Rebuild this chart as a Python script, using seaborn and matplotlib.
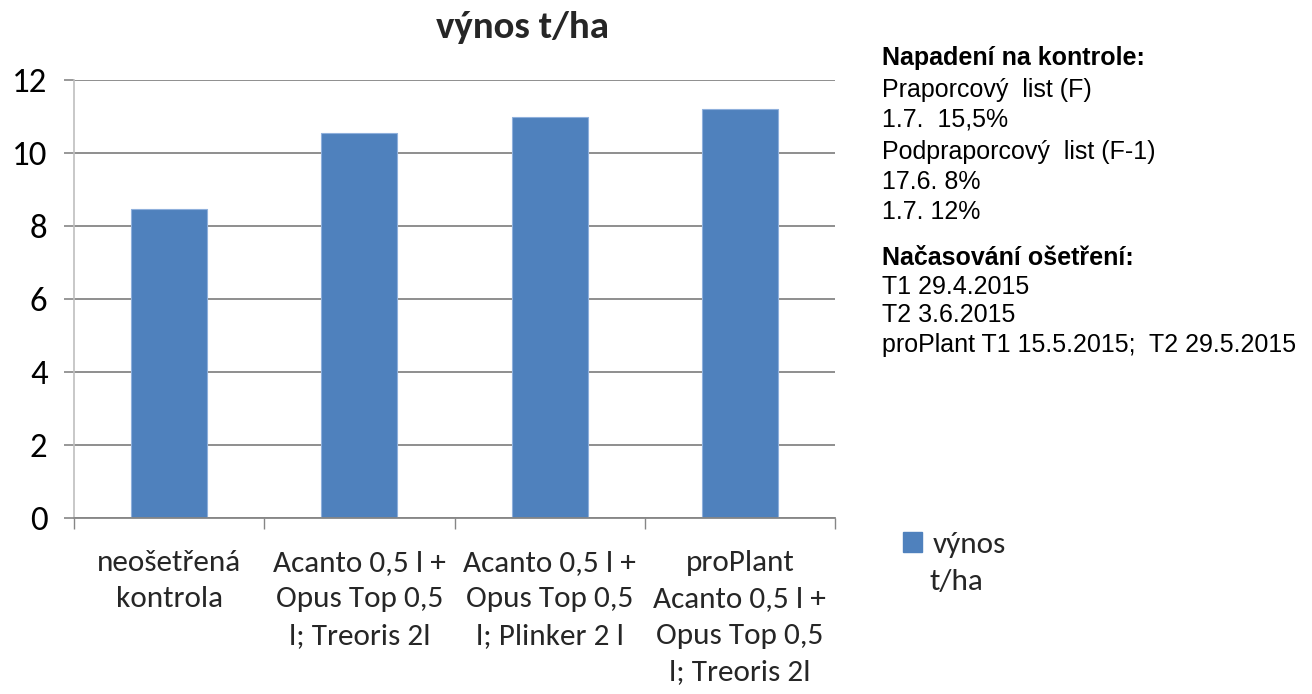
import matplotlib
matplotlib.use("Agg")
import matplotlib.pyplot as plt
import seaborn as sns
import pandas as pd
from matplotlib.ticker import FixedLocator
from matplotlib.patches import Patch

categories = [
    "neošetřená\nkontrola",
    "Acanto 0,5 l +\nOpus Top 0,5\nl; Treoris 2l",
    "Acanto 0,5 l +\nOpus Top 0,5\nl; Plinker 2 l",
    "proPlant\nAcanto 0,5 l +\nOpus Top 0,5\nl; Treoris 2l",
]
values = [8.46, 10.54, 10.99, 11.21]
series_name = "výnos t/ha"
yticks = [0, 2, 4, 6, 8, 10, 12]

note_lines = [
    ("Napadení na kontrole:", True),
    ("Praporcový  list (F)", False),
    ("1.7.  15,5%", False),
    ("Podpraporcový  list (F-1)", False),
    ("17.6. 8%", False),
    ("1.7. 12%", False),
    ("Načasování ošetření:", True),
    ("T1 29.4.2015", False),
    ("T2 3.6.2015", False),
    ("proPlant T1 15.5.2015;  T2 29.5.2015", False),
]

sns.set_theme(style="white")
calibri = ["Carlito", "Lato", "DejaVu Sans"]
arial = ["Liberation Sans", "DejaVu Sans"]
plt.rcParams["font.family"] = calibri

df = pd.DataFrame({"kategorie": categories, "hodnota": values, "serie": series_name})

fig = plt.figure(figsize=(13.12, 6.94), dpi=100)
ax = fig.add_axes([74/1312, 1-518/694, (835-74)/1312, (518-80)/694])

sns.barplot(data=df, x="kategorie", y="hodnota", hue="serie", palette=["#4F81BD"],
            saturation=1, width=0.4, ax=ax, edgecolor="#8fb0dc", linewidth=0.8, legend=False)

ax.set_ylim(0, 12)
ax.set_xlim(-0.5, 3.5)
ax.set_yticks(yticks)
ax.set_yticklabels([str(v) for v in yticks], fontsize=25, color="#000000")
ax.yaxis.grid(True, color="#868686", linewidth=1.3)
ax.set_axisbelow(True)
ax.set_xlabel("")
ax.set_ylabel("")
for s in ["top", "right"]:
    ax.spines[s].set_visible(False)
ax.spines["left"].set_color("#bfbfbf")
ax.spines["left"].set_linewidth(1.2)
ax.spines["bottom"].set_color("#868686")
ax.spines["bottom"].set_linewidth(1.3)

ax.tick_params(axis="y", which="major", length=7, width=1.2, color="#868686", direction="out", pad=12, left=True)
ax.set_xticks(range(len(categories)))
ax.set_xticklabels(categories, fontsize=22.5, linespacing=1.5, va="top")
ax.tick_params(axis="x", which="major", length=0, pad=23)
ax.xaxis.set_minor_locator(FixedLocator([-0.5, 0.5, 1.5, 2.5, 3.5]))
ax.tick_params(axis="x", which="minor", length=8, width=1.0, color="#868686", bottom=True, direction="out")

fig.text(523/1312, 1-28/694, "výnos t/ha", ha="center", va="center", fontsize=28,
         fontweight="bold", family=calibri)

# legend
handles = [Patch(facecolor="#4F81BD", edgecolor="#4F81BD")]
leg = fig.legend(handles, ["výnos"], loc="center left", bbox_to_anchor=(903/1312, 1-545/694),
                 frameon=False, handlelength=0.6, handleheight=0.6,
                 handletextpad=0.35, borderpad=0, borderaxespad=0,
                 prop={"family": calibri, "size": 22.5})
fig.text(930/1312, 1-582/694, "t/ha", ha="left", va="center", fontsize=22.5, family=calibri)

y_pos = [58, 90, 120, 152, 182, 212, 258, 287, 315, 345]
for (txt, bold), yy in zip(note_lines, y_pos):
    fig.text(882/1312, 1-yy/694, txt, ha="left", va="center", fontsize=18,
             fontweight="bold" if bold else "normal", family=arial, color="#000000")

fig.savefig("out.png", dpi=100)
